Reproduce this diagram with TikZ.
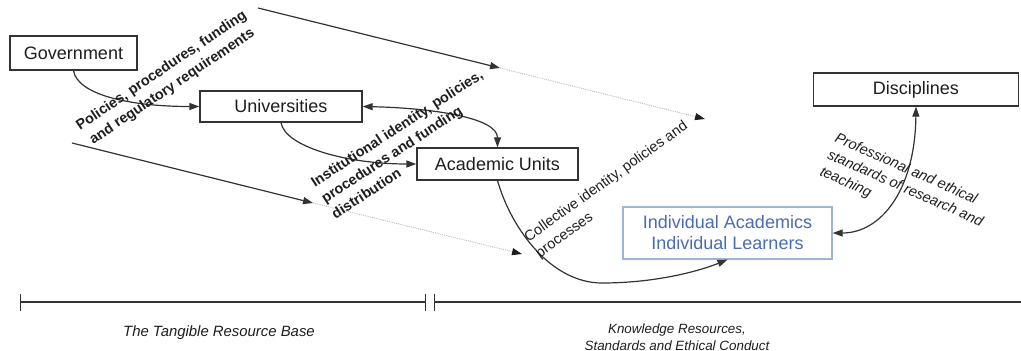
\documentclass[tikz,border=0pt]{standalone}
\usepackage{fontspec}
\setmainfont{Liberation Sans}
\usetikzlibrary{arrows.meta}
\definecolor{ink}{HTML}{1E1E1E}
\definecolor{edge}{HTML}{333333}
\definecolor{indblue}{HTML}{4A6CB3}
\definecolor{indframe}{HTML}{9DB3DA}
\begin{document}
\begin{tikzpicture}[x=1pt,y=-1pt,
  box/.style={draw=edge,line width=1.3pt,fill=white,inner sep=0pt,text=ink,
    font=\fontsize{18}{21}\selectfont},
  head/.tip={Triangle[length=10pt,width=7pt]},
  conn/.style={draw=edge,line width=1.2pt,-head},
  twoway/.style={draw=edge,line width=1.2pt,head-head},
  faint/.style={draw=gray!55,line width=0.9pt,densely dotted,
    -{Triangle[length=10pt,width=7pt,color=ink]}},
  plainlabel/.style={inner sep=0pt,text=ink,font=\fontsize{14.5}{19.5}\selectfont},
  boldlabel/.style={inner sep=0pt,text=ink,font=\fontsize{14.4}{19}\selectfont\bfseries},
  slantlabel/.style={inner sep=0pt,text=ink,font=\fontsize{14.5}{18.5}\selectfont\itshape},
  scalebar/.style={draw=edge,line width=1.3pt},
]
\useasboundingbox (0,0) rectangle (1021,351);

% organisations
\node[box,minimum width=127pt,minimum height=34pt] (gov) at (73.5,53) {Government};
\node[box,minimum width=162pt,minimum height=31pt] (uni) at (281,106.5) {Universities};
\node[box,minimum width=161pt,minimum height=32pt] (au) at (497.5,164) {Academic Units};
\node[box,minimum width=205pt,minimum height=33pt] (disc) at (916,89.5) {Disciplines};
\node[box,draw=indframe,text=indblue,minimum width=209pt,minimum height=52pt,align=center]
  (ind) at (727.5,233) {Individual Academics\\Individual Learners};

% long sweeping flows
\coordinate (t0) at (258,8);
\coordinate (t1) at (500,68);
\coordinate (t2) at (705,119);
\coordinate (b0) at (72,143);
\coordinate (b1) at (313,203);
\coordinate (b2) at (522,254);
\draw[conn] (t0) -- (t1);
\draw[faint] (t1) -- (t2);
\draw[conn] (b0) -- (b1);
\draw[faint] (b1) -- (b2);

% connectors between organisations
\draw[conn] (gov.south) .. controls +(4,24) and +(-70,0) .. (uni.west);
\draw[conn] (uni.south) .. controls +(4,24) and +(-70,0) .. (au.west);
\draw[twoway] (uni.east) .. controls +(68,1.5) and +(0,-30) .. (au.north);
\coordinate (dip) at (602,283);
\draw[conn] (au.south) .. controls +(14.5,50) and +(-50,0) .. (dip)
  .. controls +(50,0) and +(-32.5,13) .. (ind.south);
\draw[twoway] (disc.south) .. controls +(-1,84) and +(48,0) .. (ind.east);

% flow labels
\node[boldlabel,rotate=34,align=center] (lgov) at (167,79)
  {Policies, procedures, funding\\and regulatory requirements};
\node[boldlabel,rotate=33,align=left] (luni) at (407,144)
  {Institutional identity, policies,\\procedures and funding\\distribution};
\node[plainlabel,rotate=35.5,align=left] (lau) at (612,190)
  {Collective identity, policies and\\processes};
\node[slantlabel,rotate=-24,align=left] (ldisc) at (905,189)
  {Professional and ethical\\standards of research and\\teaching};

% scale along the bottom
\coordinate (l0) at (20,302);
\coordinate (l1) at (426,302);
\coordinate (r0) at (434,302);
\coordinate (r1) at (1021,302);
\draw[scalebar,{Bar[width=17pt]}-{Bar[width=17pt]}] (l0) -- (l1);
\draw[scalebar,{Bar[width=17pt]}-] (r0) -- (r1);
\node[slantlabel,font=\fontsize{14.9}{18}\selectfont\itshape] (ltang) at (219,333) {The Tangible Resource Base};
\node[slantlabel,align=center,font=\fontsize{13.4}{16.5}\selectfont\itshape] (lknow) at (677,337)
  {Knowledge Resources,\\Standards and Ethical Conduct};
\end{tikzpicture}
\end{document}
